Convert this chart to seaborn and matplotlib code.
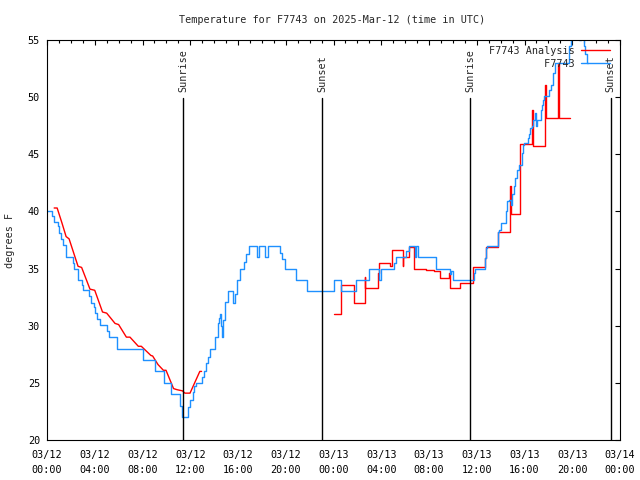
import numpy as np
import pandas as pd
import seaborn as sns
import matplotlib.pyplot as plt
from matplotlib.lines import Line2D
from matplotlib.ticker import MultipleLocator

# hours since 03/12 00:00 UTC
blue_h = [0.0, 0.45, 0.55, 0.9, 1.0, 1.2, 1.3, 1.6, 2.15, 2.3, 2.6, 2.9, 3.0, 3.55, 3.65,
          3.9, 4.05, 4.15, 4.4, 5.05, 5.2, 5.85, 5.9, 8.05, 9.05, 9.8, 10.4, 11.1, 11.3,
          11.85, 11.95, 12.2, 12.35, 12.5, 13.0, 13.15, 13.3, 13.5, 13.65, 14.1, 14.3,
          14.4, 14.5, 14.6, 14.65, 14.75, 14.9, 15.15, 15.6, 15.75, 15.95, 16.15, 16.5,
          16.7, 16.9, 17.6, 17.75, 18.3, 18.5, 19.55, 19.7, 19.95, 20.9, 21.8, 24.0,
          24.6, 25.85, 26.95, 27.85, 28.0, 29.1, 29.2, 30.1, 30.35, 30.85, 30.95, 31.1,
          32.6, 33.75, 33.85, 34.0, 35.75, 35.85, 36.7, 36.8, 36.9, 37.75, 37.85, 38.05,
          38.45, 38.55, 38.7, 38.85, 38.95, 39.1, 39.2, 39.35, 39.5, 39.75, 39.85, 39.95,
          40.3, 40.4, 40.5, 40.6, 40.75, 40.85, 40.95, 41.05, 41.35, 41.45, 41.55, 41.65,
          42.05, 42.2, 42.35, 42.55, 43.65, 43.75, 43.9, 44.1, 44.3, 44.45, 44.6, 44.75,
          44.95, 45.1, 45.25, 45.3]
blue_t = [40.0, 39.6, 39.1, 38.7, 38.1, 37.6, 37.1, 36.0, 35.5, 35.0, 34.0, 33.6, 33.1, 32.6, 32.0,
          31.6, 31.1, 30.6, 30.1, 29.5, 29.0, 28.5, 28.0, 27.0, 26.0, 25.0, 24.0, 23.0, 22.0,
          22.9, 23.5, 24.2, 24.7, 25.0, 25.5, 26.0, 26.7, 27.3, 28.0, 29.0, 30.2,
          30.7, 31.0, 30.0, 29.0, 30.5, 32.1, 33.0, 32.0, 32.8, 34.0, 35.0, 35.6,
          36.3, 37.0, 36.0, 37.0, 36.0, 37.0, 36.4, 35.8, 35.0, 34.0, 33.0, 34.0,
          33.0, 34.0, 35.0, 34.0, 35.0, 35.5, 36.0, 36.5, 37.0, 36.0, 37.0, 36.0,
          35.0, 34.5, 34.8, 34.0, 34.6, 35.0, 35.9, 36.8, 37.0, 38.2, 38.4, 39.0,
          40.0, 40.9, 41.0, 40.6, 41.5, 42.2, 42.9, 43.6, 44.1, 45.1, 45.8, 46.0,
          46.4, 46.8, 47.3, 47.5, 48.0, 48.6, 47.5, 48.0, 48.9, 49.3, 49.75, 50.1,
          50.6, 51.1, 52.1, 53.0, 53.0, 54.5, 55.5, 56.0, 55.2, 56.0, 55.0, 56.0,
          54.5, 53.8, 53.0, 53.0]

# analysis, first day (interpolated)
red1_h = [0.6, 0.85, 1.25, 1.6, 1.85, 2.6, 2.9, 3.6, 4.0, 4.65, 5.0, 5.7, 6.0, 6.65, 6.95,
          7.65, 7.9, 8.7, 8.85, 9.3, 9.75, 9.97, 10.6, 10.9, 11.35, 11.55, 11.98, 12.8, 12.95]
red1_t = [40.3, 40.3, 39.0, 37.8, 37.6, 35.2, 35.1, 33.2, 33.1, 31.2, 31.1, 30.2, 30.1, 29.0, 29.0,
          28.2, 28.2, 27.4, 27.35, 26.6, 26.1, 26.1, 24.5, 24.4, 24.3, 24.1, 24.1, 26.0, 26.0]

# analysis, second day (stepped)
red2_h = [24.0, 24.65, 25.75, 26.6, 26.65, 27.75, 27.85, 28.75, 28.9, 29.8, 29.85, 30.3, 30.75,
          31.75, 32.45, 32.95, 33.7, 33.75, 34.6, 35.7, 36.7, 36.75, 37.75, 38.75, 38.85,
          39.65, 40.6, 40.75, 41.7, 41.8, 42.8, 42.9, 43.8]
red2_t = [31.0, 33.6, 32.0, 34.3, 33.3, 34.6, 35.5, 35.2, 36.6, 35.2, 36.0, 36.9, 35.0,
          34.9, 34.8, 34.2, 34.6, 33.3, 33.75, 35.1, 35.9, 36.85, 38.2, 42.2, 39.8,
          45.9, 48.9, 45.7, 51.1, 48.2, 53.0, 48.2, 48.2]

sun_h = [11.42, 23.06, 35.45, 47.21]
sun_lbl = ["Sunrise", "Sunset", "Sunrise", "Sunset"]

xtick_h = list(range(0, 49, 4))
xtick_lbl = ["03/12\n00:00", "03/12\n04:00", "03/12\n08:00", "03/12\n12:00", "03/12\n16:00",
             "03/12\n20:00", "03/13\n00:00", "03/13\n04:00", "03/13\n08:00", "03/13\n12:00",
             "03/13\n16:00", "03/13\n20:00", "03/14\n00:00"]

sns.set_style("white")
plt.rcParams['font.family'] = ['DejaVu Sans Mono']
plt.rcParams['font.size'] = 7.3

RED = "#ff0000"
BLUE = "#1e90ff"

fig = plt.figure(figsize=(6.4, 4.8), dpi=100)
ax = fig.add_axes([47 / 640, 40 / 480, 573 / 640, 400 / 480])

sns.lineplot(x=red1_h, y=red1_t, color=RED, lw=1, estimator=None, sort=False, ax=ax)
sns.lineplot(x=red2_h, y=red2_t, color=RED, lw=1, estimator=None, sort=False,
             drawstyle="steps-post", ax=ax)
sns.lineplot(x=blue_h, y=blue_t, color=BLUE, lw=1, estimator=None, sort=False,
             drawstyle="steps-post", ax=ax)

for h, s in zip(sun_h, sun_lbl):
    ax.axvline(h, ymin=0, ymax=0.855, color="black", lw=1)
    ax.text(h, 0.87, s, transform=ax.get_xaxis_transform(), rotation=90,
            ha="center", va="bottom")

ax.set_xlim(0, 48)
ax.set_ylim(20, 55)
ax.set_xticks(xtick_h)
ax.set_xticklabels(xtick_lbl, linespacing=1.65)
ax.xaxis.set_minor_locator(MultipleLocator(1))
ax.set_yticks(range(20, 56, 5))
ax.tick_params(which="both", direction="in", top=True, right=True, colors="black")
ax.tick_params(which="major", length=3.5, width=0.8)
ax.tick_params(which="minor", length=2, width=0.8)
ax.tick_params(axis="x", pad=7)
ax.tick_params(axis="y", pad=5)
for sp in ax.spines.values():
    sp.set_color("black")
    sp.set_linewidth(0.8)

handles = [Line2D([], [], color=RED, lw=1), Line2D([], [], color=BLUE, lw=1)]
ax.legend(handles, ["F7743 Analysis", "         F7743"], loc="upper right",
          bbox_to_anchor=(0.9825, 0.985), frameon=False, markerfirst=False,
          handlelength=2.9, handletextpad=0.6, labelspacing=0.3,
          borderpad=0, borderaxespad=0)

fig.text(332 / 640, 1 - 20 / 480, "Temperature for F7743 on 2025-Mar-12 (time in UTC)",
         ha="center", va="center")
fig.text(10 / 640, 0.5, "degrees F", rotation=90, ha="center", va="center")

fig.savefig("out.png", dpi=100)
